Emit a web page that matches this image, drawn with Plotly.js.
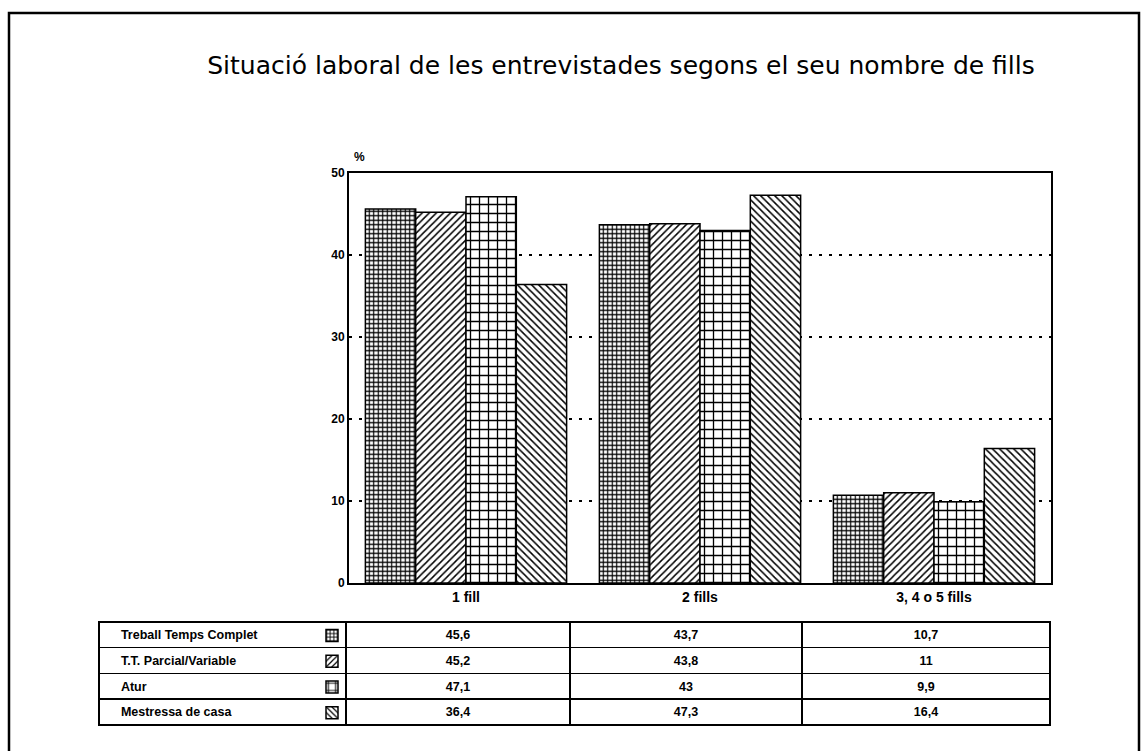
<!DOCTYPE html>
<html>
<head>
<meta charset="utf-8">
<script src="https://cdn.plot.ly/plotly-3.0.1.min.js"></script>
<style>
  body { margin: 0; background: white; }
  #chart { width: 1143px; height: 751px; }
</style>
</head>
<body>
<div id="chart"></div>
<script>
// categories: number of children
var categories = ["1 fill", "2 fills", "3, 4 o 5 fills"];

// series (labour situation)
var seriesNames = ["Treball Temps Complet", "T.T. Parcial/Variable", "Atur", "Mestressa de casa"];

// percentages per category
var treballComplet = [45.6, 43.7, 10.7];
var parcialVariable = [45.2, 43.8, 11];
var atur = [47.1, 43, 9.9];
var mestressa = [36.4, 47.3, 16.4];

var yTicks = [0, 10, 20, 30, 40, 50];

var seriesValues = [treballComplet, parcialVariable, atur, mestressa];

// page size; margins are 0 so paper fractions = page fractions
var W = 1143, H = 751;
function px(x) { return x / W; }
function py(y) { return 1 - y / H; }

var font = "Liberation Sans, Arial, sans-serif";

// hatch fill of every series
var patterns = [
  {shape: "+", size: 4.5, solidity: 0.45},
  {shape: "/", size: 5, solidity: 0.3},
  {shape: "+", size: 9, solidity: 0.27},
  {shape: "\\", size: 5, solidity: 0.3}
];

var traces = seriesNames.map(function(name, i) {
  return {
    type: "bar",
    x: categories,
    y: seriesValues[i],
    name: "",
    legendgroup: name,
    marker: {
      color: "white",
      line: {color: "black", width: 1.5},
      pattern: {
        shape: patterns[i].shape,
        size: patterns[i].size,
        solidity: patterns[i].solidity,
        fgcolor: "black",
        bgcolor: "white",
        fillmode: "replace"
      }
    }
  };
});

// data table under the chart, decimal comma
function fmt(v) { return String(v).replace(".", ","); }
var pad = "\u00a0\u00a0\u00a0\u00a0";
var columns = [seriesNames.map(function(n) { return pad + n; })].concat(
  categories.map(function(c, j) {
    return seriesValues.map(function(s) { return fmt(s[j]); });
  })
);

var rowH = 25.7;
var cellStyle = {
  line: {color: "black", width: 1.5},
  fill: {color: "white"},
  align: ["left", "center", "center", "center"],
  font: {family: font, size: 12.5, color: "black", weight: "bold"},
  height: rowH
};

var table = {
  type: "table",
  domain: {x: [px(99), px(1050)], y: [py(727), py(622)]},
  columnwidth: [247, 224, 232, 248],
  header: Object.assign({values: columns.map(function(col) { return col[0]; })}, cellStyle),
  cells: Object.assign({values: columns.map(function(col) { return col.slice(1); })}, cellStyle)
};

var layout = {
  width: W,
  height: H,
  margin: {l: 0, r: 0, t: 0, b: 0, pad: 0},
  paper_bgcolor: "white",
  plot_bgcolor: "white",
  font: {family: font, color: "black"},
  title: {
    text: "Situació laboral de les entrevistades segons el seu nombre de fills",
    font: {family: "DejaVu Sans, sans-serif", size: 25, color: "black"},
    xref: "paper", yref: "paper",
    x: px(621), y: py(65), xanchor: "center", yanchor: "middle"
  },
  barmode: "group",
  bargap: 0.14,
  bargroupgap: 0,
  xaxis: {
    domain: [px(349), px(1051)],
    showline: true, mirror: true, linecolor: "black", linewidth: 2,
    showgrid: false, ticks: "",
    tickfont: {size: 14, weight: "bold"}
  },
  yaxis: {
    domain: [py(583), py(173)],
    range: [0, 50],
    tickvals: yTicks,
    showline: true, mirror: true, linecolor: "black", linewidth: 2,
    showgrid: true, gridcolor: "black", gridwidth: 1.5, griddash: "3px,7px",
    zeroline: false, ticks: "",
    tickfont: {size: 12, weight: "bold"}
  },
  showlegend: true,
  // legend only gives the hatch swatches of the table rows
  legend: {
    xref: "paper", yref: "paper",
    x: px(312), y: py(617.5), xanchor: "left", yanchor: "top",
    font: {size: 17.5},
    bgcolor: "rgba(0,0,0,0)", borderwidth: 0,
    traceorder: "normal", itemclick: false, itemdoubleclick: false
  },
  annotations: [{
    text: "%", xref: "paper", yref: "paper",
    x: px(352), y: py(148), showarrow: false,
    font: {size: 12, weight: "bold"}
  }],
  // outer frame of the figure
  shapes: [{
    type: "rect", xref: "paper", yref: "paper",
    x0: px(9), x1: px(1139), y0: -0.05, y1: py(13),
    line: {color: "black", width: 2.5}
  }],
  hovermode: false
};

Plotly.newPlot("chart", traces.concat([table]), layout, {displayModeBar: false, staticPlot: true});
</script>
</body>
</html>
